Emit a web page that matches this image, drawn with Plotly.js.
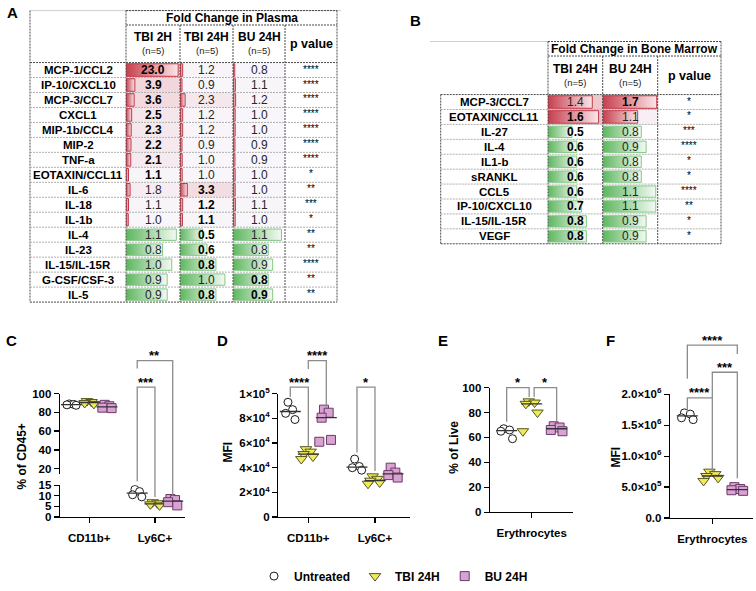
<!DOCTYPE html>
<html>
<head>
<meta charset="utf-8">
<script src="https://cdn.plot.ly/plotly-3.0.1.min.js"></script>
<style>
html,body{margin:0;padding:0;background:#ffffff;}
#chart{width:756px;height:591px;}
</style>
</head>
<body>
<div id="chart"></div>
<script>
// ===== Panel A : Fold change in plasma =====
const plasmaCytokines = ['MCP-1/CCL2','IP-10/CXCL10','MCP-3/CCL7','CXCL1','MIP-1b/CCL4','MIP-2','TNF-a','EOTAXIN/CCL11','IL-6','IL-18','IL-1b','IL-4','IL-23','IL-15/IL-15R','G-CSF/CSF-3','IL-5'];
const plasmaTBI2H  = [23.0,3.9,3.6,2.5,2.3,2.2,2.1,1.1,1.8,1.1,1.0,1.1,0.8,1.0,0.9,0.9];
const plasmaTBI24H = [1.2,0.9,2.3,1.2,1.2,0.9,1.0,1.0,3.3,1.2,1.1,0.5,0.6,0.8,1.0,0.8];
const plasmaBU24H  = [0.8,1.1,1.2,1.0,1.0,0.9,0.9,1.0,1.0,1.1,1.0,1.1,0.8,0.9,0.8,0.9];
const plasmaPvalue = ['****','****','****','****','****','****','****','*','**','***','*','**','**','****','**','**'];
const plasmaDirection = ['up','up','up','up','up','up','up','up','up','up','up','down','down','down','down','down'];
const plasmaSigTBI2H  = [1,1,1,1,1,1,1,1,0,0,0,0,0,0,0,0];
const plasmaSigTBI24H = [0,0,0,0,0,0,0,0,1,1,1,1,1,1,0,1];
const plasmaSigBU24H  = [0,0,0,0,0,0,0,0,0,0,0,0,0,0,1,1];
const plasmaColumns = ['TBI 2H','TBI 24H','BU 24H'];

// ===== Panel B : Fold change in bone marrow =====
const marrowCytokines = ['MCP-3/CCL7','EOTAXIN/CCL11','IL-27','IL-4','IL1-b','sRANKL','CCL5','IP-10/CXCL10','IL-15/IL-15R','VEGF'];
const marrowTBI24H = [1.4,1.6,0.5,0.6,0.6,0.6,0.6,0.7,0.8,0.8];
const marrowBU24H  = [1.7,1.1,0.8,0.9,0.8,0.8,1.1,1.1,0.9,0.9];
const marrowPvalue = ['*','*','***','****','*','*','****','**','*','*'];
const marrowDirection = ['up','up','down','down','down','down','down','down','down','down'];
const marrowSigTBI24H = [0,1,1,1,1,1,1,1,1,1];
const marrowSigBU24H  = [1,0,0,0,0,0,0,0,0,0];
const marrowColumns = ['TBI 24H','BU 24H'];

// ===== Panel C : % of CD45+ =====
const cCategories = ['CD11b+','Ly6C+'];
const cUntreatedCD11b = [89.0,88.5,88.0,87.5];
const cTbiCD11b       = [92.0,91.0,90.0,89.0];
const cBuCD11b        = [88.0,86.5,85.0,84.5];
const cUntreatedLy6C  = [13.0,12.0,10.5,9.5];
const cTbiLy6C        = [7.0,6.5,6.0,5.5];
const cBuLy6C         = [8.5,8.0,7.0,5.5];

// ===== Panel D : MFI =====
const dCategories = ['CD11b+','Ly6C+'];
const dUntreatedCD11b = [93000,87000,84000,79000];
const dTbiCD11b       = [55000,53000,51000,49000,47000];
const dBuCD11b        = [87000,84500,80500,62500,61000];
const dUntreatedLy6C  = [47000,41000,40000,38000];
const dTbiLy6C        = [33000,31000,29500,28000,27000];
const dBuLy6C         = [40000,36000,34000,32000];
const dTickVals = [0,20000,40000,60000,80000,100000];
const dTickText = ['0','2×10<sup>4</sup>','4×10<sup>4</sup>','6×10<sup>4</sup>','8×10<sup>4</sup>','1×10<sup>5</sup>'];

// ===== Panel E : % of Live =====
const eCategories = ['Erythrocytes'];
const eUntreated = [67,66,65,59];
const eTbi       = [89,88,87,80,65];
const eBu        = [69,68,66,65];

// ===== Panel F : MFI =====
const fCategories = ['Erythrocytes'];
const fUntreated = [1700000,1680000,1620000,1590000];
const fTbi       = [750000,710000,680000,650000,600000];
const fBu        = [500000,470000,450000,440000];
const fTickVals = [0,500000,1000000,1500000,2000000];
const fTickText = ['0.0','5.0×10<sup>5</sup>','1.0×10<sup>6</sup>','1.5×10<sup>6</sup>','2.0×10<sup>6</sup>'];

const groupNames = ['Untreated','TBI 24H','BU 24H'];

// ------------------------------------------------------------------
const W = 756, H = 591;
const PX = x => x / W, PY = y => 1 - y / H;
const FONT = 'Liberation Sans, Arial, sans-serif';
const traces = [], shapes = [], annotations = [];

function ann(o) {
  annotations.push(Object.assign({showarrow:false, xanchor:'center', yanchor:'middle',
                                  font:{family:FONT, size:12, color:'#000'}}, o));
}
function line(x0, y0, x1, y1, color, dash, width) {
  shapes.push({type:'line', xref:'paper', yref:'paper', x0:PX(x0), y0:PY(y0), x1:PX(x1), y1:PY(y1),
               line:{color:color, width:width || 1, dash:dash || 'solid'}});
}
const DARK = '#4a4a4a', DOT = '2px,1px', LIGHT = '#b0b0b0';

function mix(c1, c2, t) {
  t = Math.max(0, Math.min(1, t));
  const a = c1.match(/\w\w/g).map(h => parseInt(h, 16)), b = c2.match(/\w\w/g).map(h => parseInt(h, 16));
  return 'rgb(' + a.map((v, i) => Math.round(v + (b[i] - v) * t)).join(',') + ')';
}

const BAR = {
  up:   {dark:'#c63f4d', light:'#fbe6e9', edge:'#c2394a', h:0.42},
  down: {dark:'#5db65e', light:'#f3faf3', edge:'#86c987', h:0.38}
};

function dataBar(v, row, xa, ya, dir) {
  const s = BAR[dir];
  traces.push({
    type:'scatter', mode:'lines', xaxis:xa, yaxis:ya,
    x:[0, v, v, 0, 0], y:[row - s.h, row - s.h, row + s.h, row + s.h, row - s.h],
    fill:'toself',
    fillgradient:{type:'horizontal', start:0, stop:v, colorscale:[[0, s.dark],[1, s.light]]},
    line:{color:s.edge, width:1}, hoverinfo:'skip', showlegend:false
  });
}

// ---------------- Table builder ----------------
function buildTable(cfg) {
  const n = cfg.rows.length;
  const rowH = (cfg.bottom - cfg.top) / n;
  cfg.cols.forEach((col, c) => {
    const redAx = cfg.redAxes[c], greenAx = cfg.greenAxes[c];
    col.values.forEach((v, i) => {
      const dir = cfg.direction[i];
      if (dir === 'up') {
        const t = (v - cfg.tintLo) / (cfg.tintHi - cfg.tintLo);
        shapes.push({type:'rect', xref:redAx + ' domain', x0:0, x1:1, yref:cfg.ya, y0:i - 0.5, y1:i + 0.5,
                     fillcolor:mix('f8f6fa', cfg.tintColor, t), line:{width:0}, layer:'below'});
        dataBar(v, i, redAx, cfg.ya, 'up');
      } else {
        dataBar(v, i, greenAx, cfg.ya, 'down');
      }
      ann({xref:redAx + ' domain', x:0.5, yref:cfg.ya, y:i, text:v.toFixed(1),
           font:{family:FONT, size:12, color:col.sig[i] ? '#000' : '#262626', weight:col.sig[i] ? 'bold' : 'normal'}});
    });
    ann({xref:'paper', yref:'paper', x:PX(cfg.colX[c]), y:PY(cfg.headY1), text:col.name,
         font:{family:FONT, size:12, weight:'bold'}});
    ann({xref:'paper', yref:'paper', x:PX(cfg.colX[c]), y:PY(cfg.headY2), text:'(n=5)',
         font:{family:FONT, size:9.5, color:'#222'}});
  });
  cfg.rows.forEach((r, i) => {
    ann({xref:'paper', x:PX(cfg.labelX), yref:cfg.ya, y:i, text:r, font:{family:FONT, size:11.5, weight:'bold'}});
    ann({xref:'paper', x:PX(cfg.pX), yref:cfg.ya, y:i, text:cfg.pvals[i], yshift:1, font:{family:FONT, size:10, color:'#000'}});
  });
  ann({xref:'paper', yref:'paper', x:PX(cfg.pX), y:PY(cfg.pY), text:'p value', font:{family:FONT, size:12.5, weight:'bold'}});
  ann({xref:'paper', yref:'paper', x:PX((cfg.gx[0] + cfg.gx[cfg.gx.length - 1]) / 2), y:PY((cfg.titleTop + cfg.titleBot) / 2),
       text:cfg.title, font:{family:FONT, size:12, weight:'bold'}});
  // borders
  const gx = cfg.gx, L = cfg.left, R = gx[gx.length - 1];
  line(cfg.greyFrom, cfg.titleTop, cfg.greyTo, cfg.titleTop, '#cfcfcf', 'solid', 1);
  line(gx[0], cfg.titleTop, R, cfg.titleTop, DARK, DOT);
  line(gx[0], cfg.titleBot, R, cfg.titleBot, DARK, DOT);
  gx.forEach((x, k) => {
    const yStart = (k === 0 || k === gx.length - 1) ? cfg.titleTop : cfg.titleBot;
    line(x, yStart, x, cfg.bottom, DARK, DOT);
  });
  line(L, cfg.leftTop, L, cfg.bottom, DARK, DOT);
  line(L, cfg.top, R, cfg.top, DARK, DOT);
  line(L, cfg.bottom, R, cfg.bottom, DARK, DOT);
  for (let i = 1; i < n; i++) line(L, cfg.top + i * rowH, R, cfg.top + i * rowH, LIGHT, DOT);
}

buildTable({
  rows:plasmaCytokines, direction:plasmaDirection, pvals:plasmaPvalue, ya:'y',
  cols:[{name:plasmaColumns[0], values:plasmaTBI2H, sig:plasmaSigTBI2H},
        {name:plasmaColumns[1], values:plasmaTBI24H, sig:plasmaSigTBI24H},
        {name:plasmaColumns[2], values:plasmaBU24H, sig:plasmaSigBU24H}],
  redAxes:['x','x2','x3'], greenAxes:['x4','x5','x6'],
  tintLo:1.0, tintHi:4.2, tintColor:'f0d3d9',
  title:'Fold Change in Plasma',
  left:30, leftTop:10.7, gx:[126,180,233,285,337], colX:[153,206.5,259], labelX:78, pX:311,
  titleTop:10.7, titleBot:25.3, headY1:37, headY2:51.5, pY:45, top:63.3, bottom:305.7,
  greyFrom:30, greyTo:341
});
buildTable({
  rows:marrowCytokines, direction:marrowDirection, pvals:marrowPvalue, ya:'y2',
  cols:[{name:marrowColumns[0], values:marrowTBI24H, sig:marrowSigTBI24H},
        {name:marrowColumns[1], values:marrowBU24H, sig:marrowSigBU24H}],
  redAxes:['x7','x8'], greenAxes:['x9','x10'],
  tintLo:1.05, tintHi:1.45, tintColor:'edc0c7',
  title:'Fold Change in Bone Marrow',
  left:440.7, leftTop:95.7, gx:[548,602.7,657.7,721], colX:[575.3,630.2], labelX:494.3, pX:689.3,
  titleTop:42, titleBot:56.7, headY1:69.5, headY2:83.5, pY:76.5, top:95.7, bottom:246.7,
  greyFrom:430, greyTo:548
});

// ---------------- Scatter dot panels ----------------
const groupStyle = [
  {symbol:'circle', size:8, color:'#ffffff', line:'#1a1a1a'},
  {symbol:'triangle-down', size:10, color:'#eeea5c', line:'#56561e'},
  {symbol:'square', size:9, color:'#d8a2d2', line:'#6b3a67'}
];
function jitter(k) { return (k % 2 === 0 ? -1 : 1) * (0.035 + 0.035 * Math.floor(k / 2)); }
const median = a => { const s = a.slice().sort((p, q) => p - q), m = s.length >> 1; return s.length % 2 ? s[m] : (s[m - 1] + s[m]) / 2; };

// each sub-plot lists which categories it shows (panel C has a broken y axis)
const scatterPanels = [
  {xa:'x11', subplots:[{ya:'y3', cats:[0]}, {ya:'y4', cats:[1]}], offset:0.27, legend:true,
   series:[[cUntreatedCD11b, cTbiCD11b, cBuCD11b], [cUntreatedLy6C, cTbiLy6C, cBuLy6C]]},
  {xa:'x12', subplots:[{ya:'y5', cats:[0,1]}], offset:0.27,
   series:[[dUntreatedCD11b, dTbiCD11b, dBuCD11b], [dUntreatedLy6C, dTbiLy6C, dBuLy6C]]},
  {xa:'x13', subplots:[{ya:'y6', cats:[0]}], offset:0.3, series:[[eUntreated, eTbi, eBu]]},
  {xa:'x14', subplots:[{ya:'y7', cats:[0]}], offset:0.3, series:[[fUntreated, fTbi, fBu]]}
];
scatterPanels.forEach(p => {
  p.subplots.forEach((sp, si) => {
    for (let g = 0; g < 3; g++) {
      const xs = [], ys = [], mx = [], my = [];
      sp.cats.forEach(ci => {
        const vals = p.series[ci][g], base = ci + (g - 1) * p.offset;
        vals.forEach((v, k) => { xs.push(base + jitter(k)); ys.push(v); });
        mx.push(base); my.push(median(vals));
      });
      const st = groupStyle[g];
      traces.push({type:'scatter', mode:'markers', xaxis:p.xa, yaxis:sp.ya, x:xs, y:ys,
        name:groupNames[g], legendgroup:groupNames[g], showlegend:!!(p.legend && si === 0),
        marker:{symbol:st.symbol, size:st.size, color:st.color, line:{color:st.line, width:1}}, hoverinfo:'skip'});
      traces.push({type:'scatter', mode:'markers', xaxis:p.xa, yaxis:sp.ya, x:mx, y:my, showlegend:false,
        marker:{symbol:'line-ew', size:15, line:{color:'#333', width:1.3}}, hoverinfo:'skip'});
    }
  });
});

// significance brackets (x in category units, y in pixels of the figure)
const brackets = [
  {xa:'x11', x0:0.73, x1:1.27, top:365,   l:373,   r:501.7, label:'**'},
  {xa:'x11', x0:0.73, x1:1.0,  top:391.7, l:487,   r:503,   label:'***'},
  {xa:'x12', x0:-0.27, x1:0.0, top:391.7, l:401.7, r:451.7, label:'****'},
  {xa:'x12', x0:0.0,  x1:0.27, top:365,   l:373.3, r:411.7, label:'****'},
  {xa:'x12', x0:0.73, x1:1.0,  top:391.7, l:458,   r:476.7, label:'*'},
  {xa:'x13', x0:-0.3, x1:-0.03, top:392.3, l:426.7, r:401.7, label:'*'},
  {xa:'x13', x0:0.03, x1:0.3,  top:392.3, l:401.7, r:426.7, label:'*'},
  {xa:'x14', x0:-0.3, x1:0.3,  top:349.3, l:383.3, r:358.3, label:'****'},
  {xa:'x14', x0:0.0,  x1:0.3,  top:376.7, l:402.7, r:484,   label:'***'},
  {xa:'x14', x0:-0.3, x1:0.0,  top:402.7, l:417,   r:476.7, label:'****'}
];
brackets.forEach(b => {
  shapes.push({type:'path', xref:b.xa, yref:'paper',
    path:`M ${b.x0},${PY(b.l)} L ${b.x0},${PY(b.top)} L ${b.x1},${PY(b.top)} L ${b.x1},${PY(b.r)}`,
    line:{color:'#8c8c8c', width:1.3}});
  ann({xref:b.xa, x:(b.x0 + b.x1) / 2, yref:'paper', y:PY(b.top + 4.5), yanchor:'bottom', text:b.label,
       font:{family:FONT, size:13, weight:'bold'}});
});

// axis titles and panel letters
ann({xref:'paper', yref:'paper', x:PX(22), y:PY(462), text:'% of CD45+', textangle:-90, font:{family:FONT, size:12, weight:'bold'}});
ann({xref:'paper', yref:'paper', x:PX(228), y:PY(458), text:'MFI', textangle:-90, font:{family:FONT, size:12, weight:'bold'}});
ann({xref:'paper', yref:'paper', x:PX(454), y:PY(453), text:'% of Live', textangle:-90, font:{family:FONT, size:12, weight:'bold'}});
ann({xref:'paper', yref:'paper', x:PX(616), y:PY(463), text:'MFI', textangle:-90, font:{family:FONT, size:12, weight:'bold'}});
[['A',12,13],['B',415,21],['C',11,345],['D',222,345],['E',443,345],['F',610,345]].forEach(l =>
  ann({xref:'paper', yref:'paper', x:PX(l[1]), y:PY(l[2]), text:l[0], font:{family:FONT, size:15, weight:'bold'}}));

// ---------------- Layout ----------------
const hidden = {visible:false, fixedrange:true, showgrid:false, zeroline:false};
const axBase = {showline:true, linecolor:'#000', linewidth:1.3, ticks:'outside', ticklen:5, tickwidth:1.3, tickcolor:'#000',
  showgrid:false, zeroline:false, fixedrange:true, tickfont:{family:FONT, size:11.5, color:'#000', weight:'bold'}};
const A = o => Object.assign({}, axBase, o);
const AX = o => Object.assign({}, axBase, {ticklabelstandoff:5}, o);
const H_ = o => Object.assign({}, hidden, o);

const layout = {
  width:W, height:H, autosize:false, margin:{l:0, r:0, t:0, b:0},
  paper_bgcolor:'#ffffff', plot_bgcolor:'rgba(0,0,0,0)',
  font:{family:FONT, color:'#000'},
  showlegend:true,
  legend:{orientation:'h', x:PX(254), y:PY(583), xanchor:'left', yanchor:'middle',
          font:{family:FONT, size:12, weight:'bold'}, bgcolor:'rgba(0,0,0,0)', itemclick:false},
  // table A
  yaxis: H_({domain:[PY(305.7), PY(63.3)], range:[15.5, -0.5], anchor:'x'}),
  xaxis: H_({domain:[PX(126), PX(180)], range:[0, 23.8], anchor:'y'}),
  xaxis2:H_({domain:[PX(180), PX(233)], range:[0, 23.8], anchor:'y'}),
  xaxis3:H_({domain:[PX(233), PX(285)], range:[0, 23.8], anchor:'y'}),
  xaxis4:H_({overlaying:'x',  range:[0, 1.18], anchor:'y'}),
  xaxis5:H_({overlaying:'x2', range:[0, 1.18], anchor:'y'}),
  xaxis6:H_({overlaying:'x3', range:[0, 1.18], anchor:'y'}),
  // table B
  yaxis2:H_({domain:[PY(246.7), PY(95.7)], range:[9.5, -0.5], anchor:'x7'}),
  xaxis7:H_({domain:[PX(548), PX(602.7)], range:[0, 1.73], anchor:'y2'}),
  xaxis8:H_({domain:[PX(602.7), PX(657.7)], range:[0, 1.73], anchor:'y2'}),
  xaxis9:H_({overlaying:'x7', range:[0, 1.14], anchor:'y2'}),
  xaxis10:H_({overlaying:'x8', range:[0, 1.14], anchor:'y2'}),
  // panel C
  xaxis11:AX({domain:[PX(60), PX(185)], range:[-0.445, 1.457], anchor:'y4', tickvals:[0,1], ticktext:cCategories}),
  yaxis3:A({domain:[PY(480), PY(398.3)], range:[14, 100], anchor:'x11', tickvals:[20,40,60,80,100]}),
  yaxis4:A({domain:[PY(523.3), PY(491)], range:[0, 15], anchor:'x11', tickvals:[0,5,10,15]}),
  // panel D
  xaxis12:AX({domain:[PX(278.3), PX(410)], range:[-0.45, 1.525], anchor:'y5', tickvals:[0,1], ticktext:dCategories}),
  yaxis5:A({domain:[PY(523.3), PY(398.3)], range:[0, 100000], anchor:'x12', tickvals:dTickVals, ticktext:dTickText}),
  // panel E
  xaxis13:AX({domain:[PX(490), PX(573.3)], range:[-0.5, 0.5], anchor:'y6', tickvals:[0], ticktext:eCategories}),
  yaxis6:A({domain:[PY(518.3), PY(392.3)], range:[0, 100], anchor:'x13', tickvals:[0,20,40,60,80,100]}),
  // panel F
  xaxis14:AX({domain:[PX(670), PX(753.3)], range:[-0.508, 0.492], anchor:'y7', tickvals:[0], ticktext:fCategories}),
  yaxis7:A({domain:[PY(524.3), PY(399)], range:[0, 2000000], anchor:'x14', tickvals:fTickVals, ticktext:fTickText}),
  shapes:shapes, annotations:annotations
};

Plotly.newPlot('chart', traces, layout, {staticPlot:true, displayModeBar:false});
</script>
</body>
</html>
